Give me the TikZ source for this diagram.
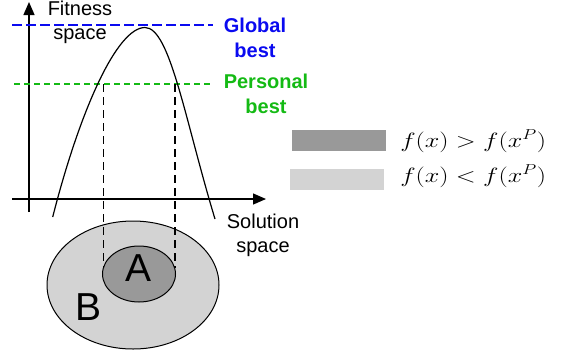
\documentclass[tikz,border=0pt]{standalone}
\usepackage{fontspec}
\setmainfont{Liberation Sans}
\usetikzlibrary{arrows.meta}
\definecolor{gbest}{HTML}{0A0AF0}
\definecolor{pbest}{HTML}{14BA14}
\definecolor{darkfill}{HTML}{999999}
\definecolor{lightfill}{HTML}{D3D3D3}
\tikzset{
  axis/.style={line width=1.3pt,-{Triangle[width=11pt,length=13pt]}},
  lbl/.style={font=\fontsize{20}{24}\selectfont,align=center,inner sep=0pt},
  blbl/.style={font=\fontsize{20}{24.5}\selectfont\bfseries,align=center,inner sep=0pt},
  big/.style={font=\fontsize{39}{40}\selectfont,inner sep=0pt},
  mth/.style={font=\fontsize{22}{26}\selectfont,inner sep=0pt,anchor=west,xscale=1.26},
  proj/.style={line width=1.1pt,dash pattern=on 8pt off 5pt},
}
\begin{document}
\begin{tikzpicture}[x=1pt,y=-1pt]
\useasboundingbox (0,0) rectangle (564,354);
% sets
\draw[line width=1pt,fill=lightfill] (133,285) ellipse [x radius=86,y radius=64];
\draw[line width=1pt,fill=darkfill] (139,274) ellipse [x radius=36.5,y radius=28];
\node[big] (A) at (139,268) {A};
\node[big] (B) at (89,307) {B};
% axes
\coordinate (yb) at (29,212);
\coordinate (yt) at (29,2);
\coordinate (xl) at (12,199);
\coordinate (xr) at (266,199);
\draw[axis] (yb) -- (yt);
\draw[axis] (xl) -- (xr);
% best lines
\coordinate (g1) at (12,25);
\coordinate (g2) at (213,25);
\coordinate (p1) at (14,84);
\coordinate (p2) at (213,84);
\draw[gbest,line width=1.2pt,dash pattern=on 10pt off 4pt] (g1) -- (g2);
\draw[pbest,line width=1.2pt,dash pattern=on 6pt off 4pt] (p1) -- (p2);
% projections
\coordinate (l1) at (103.3,84);
\coordinate (l2) at (103.3,268);
\coordinate (r1) at (175,84);
\coordinate (r2) at (175,268);
\draw[proj] (l1) -- (l2);
\draw[proj] (r1) -- (r2);
% fitness curve
\coordinate (cs) at (52.7,217);
\coordinate (cp) at (145,27.5);
\coordinate (ce) at (215,219);
\draw[line width=1.2pt] (cs) .. controls (80,110) and (117,27.5) .. (cp)
  .. controls (170,27.5) and (185,120) .. (ce);
% texts
\node[lbl] (fit) at (80,22) {Fitness\\space};
\node[lbl] (sol) at (263,235) {Solution\\space};
\node[blbl,text=gbest] (gb) at (255,38) {Global\\best};
\node[blbl,text=pbest] (pb) at (266,94) {Personal\\best};
% legend
\node[fill=darkfill,minimum width=94pt,minimum height=21pt,inner sep=0pt] (ld) at (339,140.5) {};
\node[fill=lightfill,minimum width=94pt,minimum height=21pt,inner sep=0pt] (ll) at (337,179.5) {};
\node[mth] (md) at (400,141) {$f(x) > f(x^P)$};
\node[mth] (ml) at (400,176) {$f(x) < f(x^P)$};
\end{tikzpicture}
\end{document}
